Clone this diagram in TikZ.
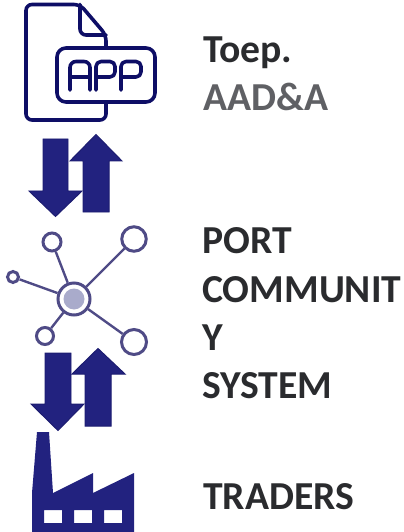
\documentclass[tikz,border=0pt]{standalone}
\usepackage{fontspec}
\setmainfont{Carlito}
\definecolor{navy}{HTML}{22227F}
\definecolor{navyedge}{HTML}{1C1C70}
\definecolor{docblue}{HTML}{0E0E66}
\definecolor{netc}{HTML}{4F4B86}
\definecolor{netfill}{HTML}{A9ABCB}
\definecolor{txtdark}{HTML}{2A2B2E}
\definecolor{txtgray}{HTML}{5F6064}
\tikzset{
 lbl/.style={font=\fontsize{39.8}{49}\selectfont\bfseries,anchor=base west,align=left,inner sep=0pt,text=txtdark},
 docline/.style={draw=docblue,line width=3.6pt,line join=round,line cap=round},
 blockarrow/.style={fill=navy,draw=navyedge,line width=1pt},
 netline/.style={draw=netc,line width=2.4pt},
 netnode/.style={circle,draw=netc,line width=3pt,fill=white,inner sep=0pt},
}
\begin{document}
\begin{tikzpicture}[x=1bp,y=-1bp]
\useasboundingbox (0,0) rectangle (403,532);
% document icon
\draw[docline,rounded corners=6pt] (106,47) -- (106,35) -- (80,4.5) -- (26,4.5) -- (26,120) -- (106,120) -- (106,102);
\draw[docline,rounded corners=6pt] (80,4.5) -- (80,35) -- (106,35);
\draw[docline,rounded corners=9pt] (57,48) rectangle (155,102);
\draw[docline,rounded corners=6pt] (70,90) -- (70,61.5) -- (90,61.5) -- (90,90);
\draw[docline] (70,77) -- (90,77);
\draw[docline,rounded corners=5pt] (96,90) -- (96,61.5) -- (115,61.5) -- (115,77) -- (96,77);
\draw[docline,rounded corners=5pt] (121,90) -- (121,61.5) -- (141,61.5) -- (141,77) -- (121,77);
% arrows 1
\draw[blockarrow] (43,139) -- (68,139) -- (68,191) -- (82,191) -- (55.5,216.5) -- (29,191) -- (43,191) -- cycle;
\draw[blockarrow] (96,134.5) -- (122,161) -- (109,161) -- (109,212) -- (83,212) -- (83,161) -- (70,161) -- cycle;
% network
\node[netnode,minimum size=32bp] (hub) at (74,299) {};
\node[circle,fill=netfill,minimum size=21bp,inner sep=0pt] (hubcore) at (74,299) {};
\node[netnode,minimum size=18bp] (n1) at (52,242) {};
\node[netnode,minimum size=24.5bp] (n2) at (134,239) {};
\node[netnode,minimum size=11bp] (n3) at (13,277) {};
\node[netnode,minimum size=17bp] (n4) at (45,336) {};
\node[netnode,minimum size=25bp] (n5) at (134,342) {};
\draw[netline] (hub) -- (n1);
\draw[netline] (hub) -- (n2);
\draw[netline] (hub) -- (n3);
\draw[netline] (hub) -- (n4);
\draw[netline] (hub) -- (n5);
% arrows 2
\draw[blockarrow] (45,353) -- (71,353) -- (71,404) -- (84,404) -- (58,430.5) -- (31,404) -- (45,404) -- cycle;
\draw[blockarrow] (98,348.5) -- (125,374) -- (111,374) -- (111,426) -- (85,426) -- (85,374) -- (72,374) -- cycle;
% factory
\fill[navy,even odd rule] (37,432) -- (49,432) -- (53,493) -- (93,473) -- (93,493) -- (134,473) -- (134,532) -- (32,532) -- (32,493) -- cycle
 (44,510) rectangle (62,523) (74,510) rectangle (92,523) (104,510) rectangle (122,523);
% labels
\node[lbl] (toep) at (203,63) {Toep.};
\node[lbl,text=txtgray] (aad) at (203,111) {AAD\&A};
\node[lbl] (pcs1) at (202,253.5) {PORT};
\node[lbl] (pcs2) at (202,302) {COMMUNIT};
\node[lbl] (pcs3) at (202,350) {Y};
\node[lbl] (pcs4) at (202,398.5) {SYSTEM};
\node[lbl] (traders) at (203,509) {TRADERS};
\end{tikzpicture}
\end{document}
